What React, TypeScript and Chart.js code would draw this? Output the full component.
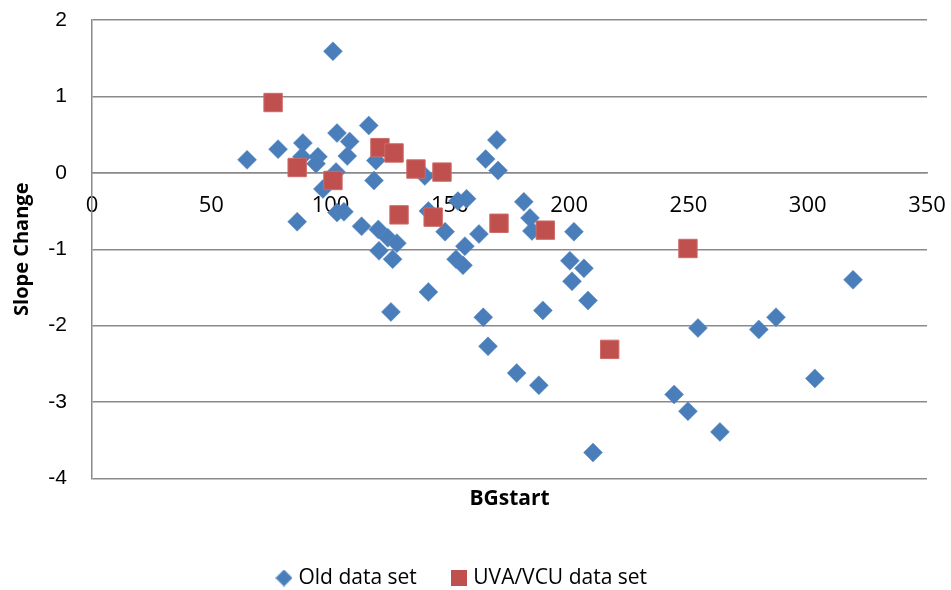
import React, { useEffect, useRef } from "react";
import { Chart, registerables } from "chart.js";

Chart.register(...registerables);

const oldX = [65, 78, 88.4, 88, 94.7, 93.9, 86, 101, 102.7, 108, 107, 102.3, 96.8, 102.7, 105.6, 116, 119, 118.2, 113, 120, 124, 127.8, 120.3, 126, 125.3, 139.5, 141, 141, 148, 153.4, 157, 156.3, 152.6, 155.5, 162.2, 164, 166, 165, 169.7, 170.2, 178, 181, 183.6, 184.4, 187.3, 189, 202, 200.3, 206.2, 201.2, 207.9, 210, 244, 249.8, 263.2, 254, 279.5, 286.7, 303, 319];
const oldY = [0.17, 0.31, 0.39, 0.21, 0.21, 0.12, -0.64, 1.59, 0.52, 0.41, 0.22, 0.01, -0.21, -0.52, -0.51, 0.62, 0.16, -0.1, -0.7, -0.74, -0.85, -0.92, -1.02, -1.13, -1.82, -0.04, -0.5, -1.56, -0.77, -0.37, -0.34, -0.96, -1.13, -1.21, -0.8, -1.89, -2.27, 0.18, 0.43, 0.03, -2.62, -0.38, -0.59, -0.76, -2.78, -1.8, -0.77, -1.15, -1.25, -1.42, -1.67, -3.66, -2.9, -3.12, -3.39, -2.03, -2.05, -1.89, -2.69, -1.4];

const uvaX = [75.9, 86, 101, 120.7, 126.6, 135.8, 146.7, 128.7, 143, 170.6, 190, 217, 249.8];
const uvaY = [0.92, 0.07, -0.1, 0.33, 0.26, 0.05, 0.01, -0.55, -0.58, -0.66, -0.75, -2.31, -0.99];

const seriesNames = ["Old data set", "UVA/VCU data set"];
const xTicks = [0, 50, 100, 150, 200, 250, 300, 350];
const yTicks = [-4, -3, -2, -1, 0, 1, 2];
const xTitle = "BGstart";
const yTitle = "Slope Change";

const BLUE = "#4a7ebb";
const RED = "#c0504d";
const GRID = "#8a8a8a";

function makeIcon(kind: "diamond" | "square"): HTMLCanvasElement {
  const c = document.createElement("canvas");
  const s = kind === "diamond" ? 17 : 16;
  c.width = s;
  c.height = s;
  const ctx = c.getContext("2d")!;
  if (kind === "diamond") {
    ctx.fillStyle = BLUE;
    ctx.beginPath();
    ctx.moveTo(s / 2, 0);
    ctx.lineTo(s, s / 2);
    ctx.lineTo(s / 2, s);
    ctx.lineTo(0, s / 2);
    ctx.closePath();
    ctx.fill();
  } else {
    ctx.fillStyle = RED;
    ctx.fillRect(0, 0, s, s);
  }
  return c;
}

const zeroPad = (s: any) => {
  s.paddingTop = 0;
  s.paddingBottom = 0;
  s.paddingLeft = 0;
  s.paddingRight = 0;
};

export default function App() {
  const ref = useRef<HTMLCanvasElement | null>(null);

  useEffect(() => {
    if (!ref.current) return;
    const icons = [makeIcon("diamond"), makeIcon("square")];
    const chart = new Chart(ref.current, {
      type: "scatter",
      data: {
        datasets: [
          {
            label: seriesNames[0],
            data: oldX.map((x, i) => ({ x, y: oldY[i] })),
            pointStyle: "rectRot",
            pointRadius: 9.5,
            pointHoverRadius: 9.5,
            backgroundColor: BLUE,
            borderColor: "#5a8ac4",
            borderWidth: 0.5,
            order: 2,
          },
          {
            label: seriesNames[1],
            data: uvaX.map((x, i) => ({ x, y: uvaY[i] })),
            pointStyle: "rect",
            pointRadius: 13,
            pointHoverRadius: 13,
            backgroundColor: RED,
            borderColor: "#cc6b68",
            borderWidth: 1,
            order: 1,
          },
        ],
      },
      options: {
        responsive: false,
        animation: false,
        events: [],
        layout: { padding: { left: 0, top: 20, right: 24, bottom: -8.5 } },
        plugins: {
          tooltip: { enabled: false },
          legend: {
            display: true,
            position: "bottom",
            labels: {
              usePointStyle: true,
              pointStyleWidth: 8,
              boxWidth: 17,
              boxHeight: 17,
              padding: 38,
              color: "#000",
              font: { family: "'Open Sans'", size: 21 },
              generateLabels: () =>
                seriesNames.map((name, i) => ({
                  text: name,
                  pointStyle: icons[i],
                  fillStyle: i === 0 ? BLUE : RED,
                  strokeStyle: i === 0 ? BLUE : RED,
                  lineWidth: 0,
                  hidden: false,
                  datasetIndex: i,
                  fontColor: "#000",
                })),
            },
          },
        },
        scales: {
          x: {
            type: "linear",
            position: "bottom",
            min: 0,
            max: 350,
            ticks: { display: false },
            grid: { display: false, drawTicks: false },
            border: { display: false },
            title: {
              display: true,
              text: xTitle,
              color: "#000",
              font: { family: "'Open Sans'", size: 21, weight: "bold" },
              padding: { top: 0, bottom: 18 },
            },
            afterFit: (s: any) => {
              s.height = 51;
              zeroPad(s);
            },
          },
          x2: {
            type: "linear",
            axis: "x",
            position: { y: 0 },
            min: 0,
            max: 350,
            afterBuildTicks: (s: any) => {
              s.ticks = xTicks.map((v) => ({ value: v }));
            },
            afterFit: (s: any) => {
              zeroPad(s);
            },
            ticks: {
              color: "#000",
              padding: 20,
              maxRotation: 0,
              autoSkip: false,
              font: { family: "'Open Sans'", size: 22 },
            },
            grid: { display: false, drawTicks: false },
            border: { display: true, color: GRID, width: 1.5 },
          },
          y: {
            type: "linear",
            position: "left",
            min: -4,
            max: 2,
            afterBuildTicks: (s: any) => {
              s.ticks = yTicks.map((v) => ({ value: v }));
            },
            ticks: {
              color: "#000",
              padding: 25,
              font: { family: "'Liberation Sans'", size: 21 },
            },
            grid: { color: GRID, lineWidth: 1.5, drawTicks: false },
            border: { display: true, color: GRID, width: 1.5 },
            title: {
              display: true,
              text: yTitle,
              color: "#000",
              font: { family: "'Open Sans'", size: 20, weight: "bold" },
              padding: { top: 10, bottom: 0 },
            },
            afterFit: (s: any) => {
              s.width = 92;
              zeroPad(s);
            },
          },
        },
      },
    });
    return () => chart.destroy();
  }, []);

  return (
    <div style={{ position: "absolute", left: 0, top: 0, width: 951, height: 590, background: "#fff" }}>
      <canvas ref={ref} width={951} height={590} style={{ display: "block" }} />
    </div>
  );
}
